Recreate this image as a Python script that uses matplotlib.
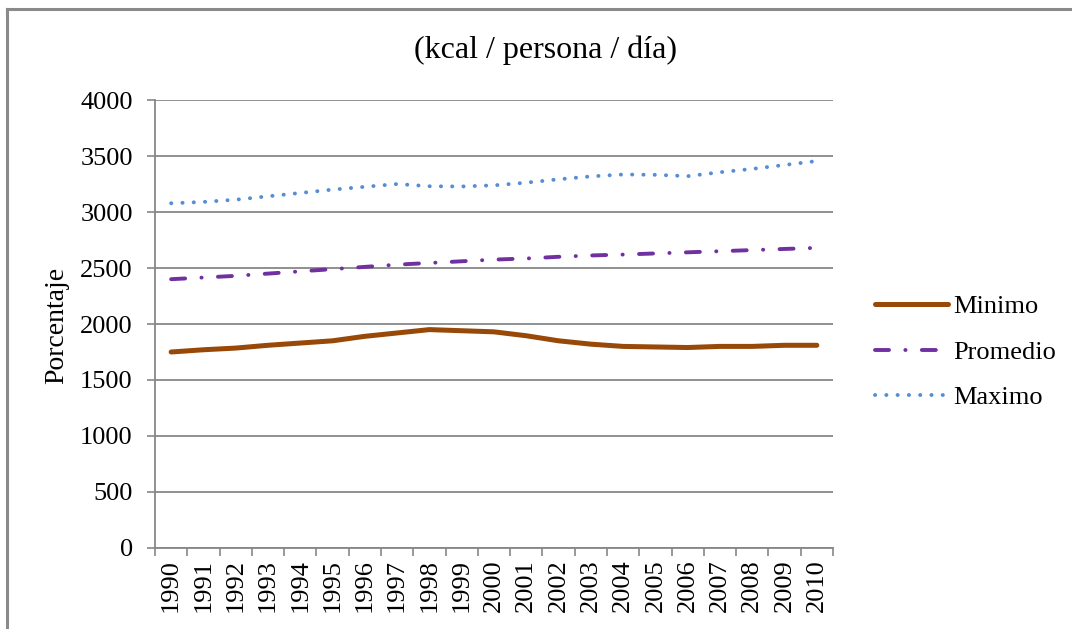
import matplotlib
matplotlib.use("Agg")
import matplotlib.pyplot as plt
from matplotlib.lines import Line2D

plt.rcParams["font.family"] = ["Liberation Serif", "DejaVu Serif"]

years = [str(y) for y in range(1990, 2011)]
minimo = [1750, 1770, 1785, 1810, 1830, 1850, 1890, 1920, 1950, 1940,
          1930, 1895, 1850, 1820, 1800, 1795, 1790, 1800, 1800, 1810, 1810]
promedio = [2400, 2415, 2430, 2450, 2470, 2490, 2510, 2530, 2545, 2560,
            2575, 2585, 2600, 2612, 2620, 2630, 2640, 2650, 2660, 2670, 2680]
maximo = [3078, 3090, 3110, 3140, 3170, 3200, 3225, 3250, 3230, 3228,
          3238, 3262, 3292, 3318, 3335, 3332, 3320, 3355, 3385, 3420, 3455]

grid_col = "#878787"

fig = plt.figure(figsize=(10.72, 6.29), dpi=100)
ax = fig.add_axes([155 / 1072, 81 / 629, 678 / 1072, 448 / 629])

x = list(range(len(years)))
ax.plot(x, minimo, color="#984807", lw=3.6, solid_capstyle="round", label="Minimo")
ax.plot(x, promedio, color="#7030A0", lw=2.8, dash_capstyle="round",
        dashes=(3.6, 4.2, 0.05, 4.2), label="Promedio")
ax.plot(x, maximo, color="#558ED5", lw=2.8, dash_capstyle="round",
        dashes=(0.05, 2.85), label="Maximo")

ax.set_xlim(-0.5, len(years) - 0.5)
ax.set_ylim(0, 4000)
ax.set_yticks(range(0, 4001, 500))
ax.yaxis.grid(True, color=grid_col, lw=1.3)
ax.set_axisbelow(True)

ax.set_xticks([i - 0.5 for i in range(len(years) + 1)])
ax.set_xticklabels([])
ax.set_xticks(x, minor=True)
ax.set_xticklabels(years, minor=True, rotation=90, fontsize=19)
ax.tick_params(axis="x", which="major", length=6, width=1.2, color=grid_col, direction="out")
ax.tick_params(axis="x", which="minor", length=0, pad=8)
ax.tick_params(axis="y", length=6, width=1.2, color=grid_col, labelsize=19, pad=10)

for s in ["top", "right"]:
    ax.spines[s].set_visible(False)
for s in ["left", "bottom"]:
    ax.spines[s].set_color(grid_col)
    ax.spines[s].set_linewidth(1.3)

fig.text(545 / 1072, 1 - 50 / 629, "(kcal / persona / día)", fontsize=23,
         ha="center", va="center")
fig.text(57 / 1072, 1 - 325 / 629, "Porcentaje", fontsize=20, rotation=90,
         ha="center", va="center")

ax.legend(loc="center left", bbox_to_anchor=(875 / 1072, 1 - 352 / 629),
          bbox_transform=fig.transFigure, frameon=False, fontsize=19,
          handlelength=2.75, handletextpad=0.2, labelspacing=0.83,
          borderpad=0, borderaxespad=0)

# chart border (top and left visible)
fig.add_artist(Line2D([7 / 1072, 7 / 1072], [0, 1 - 9 / 629], transform=fig.transFigure,
                      color="#8a8a8a", lw=2.2))
fig.add_artist(Line2D([7 / 1072, 1], [1 - 9 / 629, 1 - 9 / 629], transform=fig.transFigure,
                      color="#8a8a8a", lw=2.2))

fig.savefig("out.png", dpi=100)
